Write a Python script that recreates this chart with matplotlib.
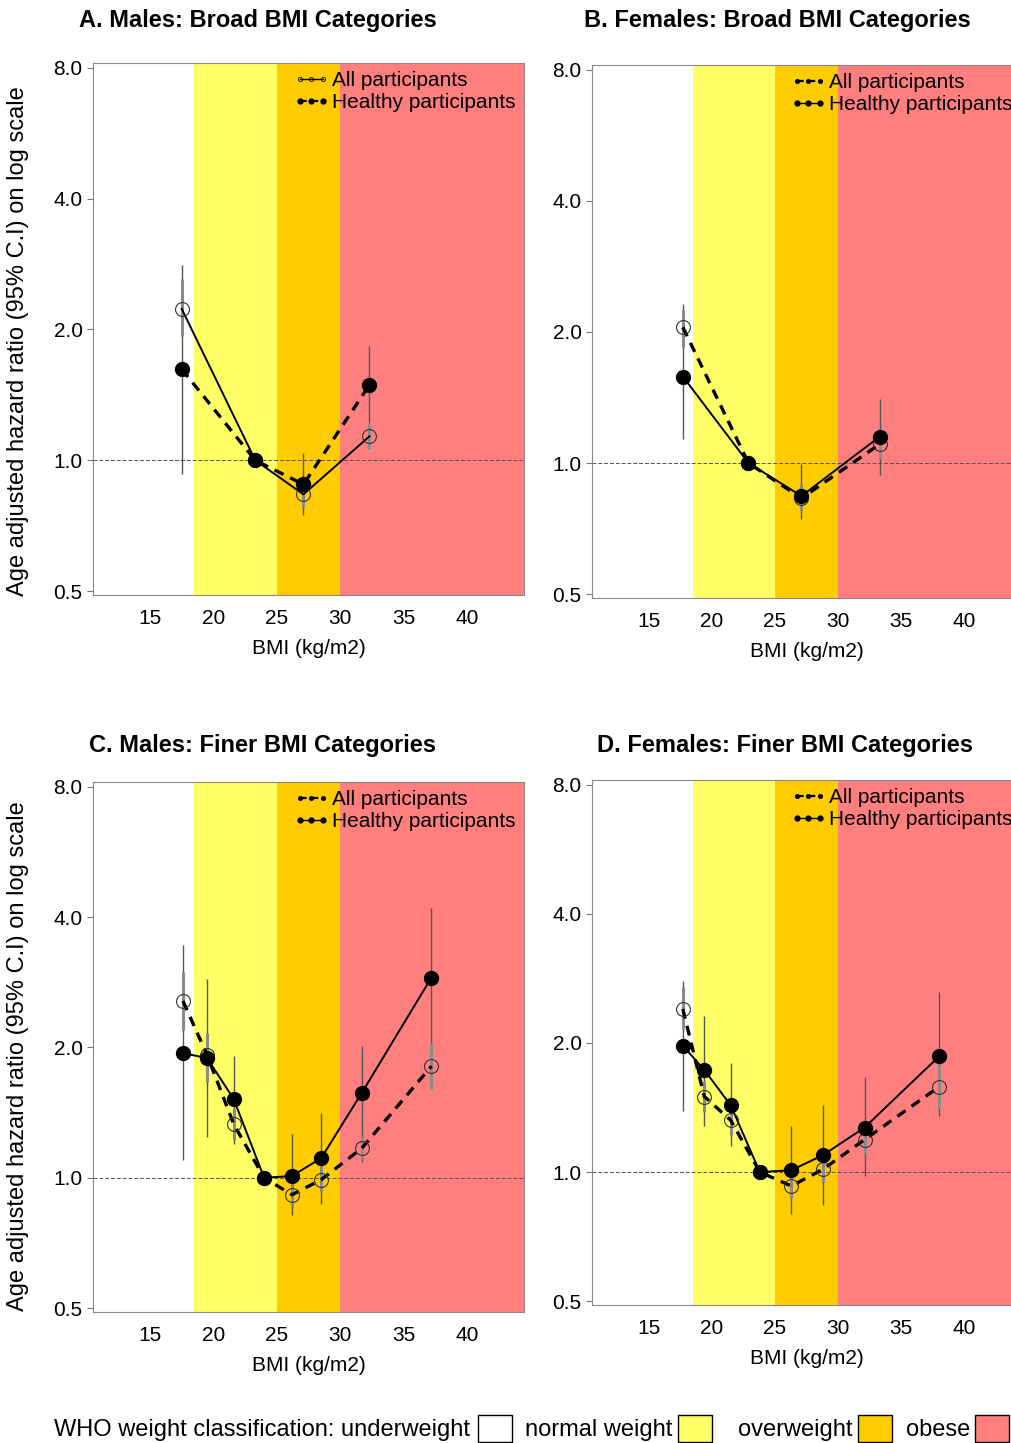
import matplotlib
matplotlib.use("Agg")
import matplotlib.pyplot as plt
from matplotlib.lines import Line2D
from matplotlib.patches import Rectangle

plt.rcParams['font.family'] = ['Liberation Sans', 'DejaVu Sans']

# ---- data (hazard ratios) ----
bmi_a = [17.5, 23.3, 27.1, 32.3]
all_a = [2.23, 1.0, 0.835, 1.135]
all_a_lo = [1.93, 1.0, 0.78, 1.06]
all_a_hi = [2.61, 1.0, 0.90, 1.21]
healthy_a = [1.62, 1.0, 0.88, 1.49]
healthy_a_lo = [0.93, 1.0, 0.75, 1.22]
healthy_a_hi = [2.82, 1.0, 1.04, 1.83]

bmi_b = [17.7, 22.9, 27.1, 33.3]
all_b = [2.05, 1.0, 0.83, 1.105]
all_b_lo = [1.85, 1.0, 0.78, 1.02]
all_b_hi = [2.25, 1.0, 0.89, 1.20]
healthy_b = [1.58, 1.0, 0.84, 1.15]
healthy_b_lo = [1.135, 1.0, 0.744, 0.94]
healthy_b_hi = [2.32, 1.0, 0.995, 1.40]

bmi_c = [17.6, 19.5, 21.6, 24.0, 26.2, 28.5, 31.7, 37.2]
all_c = [2.56, 1.92, 1.33, 1.0, 0.914, 0.99, 1.17, 1.81]
all_c_lo = [2.19, 1.66, 1.22, 1.0, 0.86, 0.93, 1.10, 1.60]
all_c_hi = [2.98, 2.16, 1.45, 1.0, 0.97, 1.06, 1.25, 2.05]
healthy_c = [1.94, 1.89, 1.52, 1.0, 1.01, 1.11, 1.57, 2.90]
healthy_c_lo = [1.10, 1.24, 1.20, 1.0, 0.82, 0.87, 1.09, 2.02]
healthy_c_hi = [3.44, 2.87, 1.91, 1.0, 1.26, 1.41, 2.01, 4.20]

bmi_d = [17.7, 19.4, 21.5, 23.8, 26.3, 28.8, 32.1, 38.0]
all_d = [2.40, 1.50, 1.32, 1.0, 0.928, 1.015, 1.19, 1.58]
all_d_lo = [2.15, 1.38, 1.22, 1.0, 0.87, 0.95, 1.10, 1.40]
all_d_hi = [2.70, 1.63, 1.43, 1.0, 0.99, 1.08, 1.29, 1.79]
healthy_d = [1.97, 1.73, 1.43, 1.0, 1.01, 1.095, 1.27, 1.86]
healthy_d_lo = [1.39, 1.28, 1.15, 1.0, 0.80, 0.84, 0.98, 1.35]
healthy_d_hi = [2.79, 2.31, 1.80, 1.0, 1.28, 1.43, 1.67, 2.63]

titles = ["A. Males: Broad BMI Categories", "B. Females: Broad BMI Categories",
          "C. Males: Finer BMI Categories", "D. Females: Finer BMI Categories"]
y_ticks = [0.5, 1.0, 2.0, 4.0, 8.0]
x_ticks = [15, 20, 25, 30, 35, 40]

who_labels = ["underweight", "normal weight", "overweight", "obese"]
who_bounds = [10, 18.5, 25, 30, 60]
who_colors = ["#FFFFFF", "#FFFF66", "#FFCC00", "#FF7F7F"]

YLABEL = "Age adjusted hazard ratio (95% C.I) on log scale"


def draw_panel(ax, bmi, a, a_lo, a_hi, h, h_lo, h_hi, all_dashed):
    for lo, hi, col in zip(who_bounds[:-1], who_bounds[1:], who_colors):
        ax.axvspan(lo, hi, color=col, lw=0, zorder=0)
    ax.axhline(1.0, color='#555555', lw=0.7, ls=(0, (4, 2)), zorder=1)

    # confidence intervals
    ax.vlines(bmi, h_lo, h_hi, color='#555555', lw=1.0, zorder=2)
    ax.vlines(bmi, a_lo, a_hi, color='#8a8a8a', lw=2.2, zorder=2)

    dash = (0, (3, 2.2))
    all_ls = dash if all_dashed else '-'
    h_ls = '-' if all_dashed else dash
    all_lw = 2.4 if all_dashed else 1.4
    h_lw = 1.4 if all_dashed else 2.4
    ax.plot(bmi, a, ls=all_ls, lw=all_lw, color='black', zorder=3)
    ax.plot(bmi, h, ls=h_ls, lw=h_lw, color='black', zorder=3)
    ax.plot(bmi, a, 'o', ms=10, mfc='none', mec='#333333', mew=0.8, zorder=4)
    ax.plot(bmi, h, 'o', ms=10, color='black', zorder=5)

    ax.set_yscale('log', base=2)
    ax.set_ylim(0.49, 8.2)
    ax.set_xlim(10.5, 44.5)
    ax.set_yticks(y_ticks)
    ax.set_yticklabels(["%.1f" % t for t in y_ticks])
    ax.minorticks_off()
    ax.set_xticks(x_ticks)
    ax.tick_params(axis='x', length=0, pad=10, labelsize=15)
    ax.tick_params(axis='y', length=4, color='#777777', labelsize=15)
    for s in ax.spines.values():
        s.set_color('#888888')
        s.set_linewidth(0.8)
    ax.set_xlabel("BMI (kg/m2)", fontsize=15, labelpad=8)

    h_all = Line2D([], [], ls=all_ls, lw=1.6 if all_dashed else 1.0, color='black',
                   marker='o', ms=3, mfc='none' if not all_dashed else 'black',
                   mec='black', mew=0.6)
    h_h = Line2D([], [], ls=h_ls, lw=1.6 if not all_dashed else 1.0, color='black',
                 marker='o', ms=3.5)
    ax.legend([h_all, h_h], ["All participants", "Healthy participants"],
              loc='upper right', bbox_to_anchor=(1.0, 1.0), frameon=False,
              fontsize=15, numpoints=3, handlelength=1.7, handletextpad=0.15,
              labelspacing=0.15, borderaxespad=0.1, borderpad=0.3)


fig = plt.figure(figsize=(10.12, 14.43), dpi=100)
W, H = 1012.0, 1443.0


def add_ax(l, t, r, b):
    return fig.add_axes([l / W, 1 - b / H, (r - l) / W, (b - t) / H])


ax_a = add_ax(93, 63, 524, 595)
ax_b = add_ax(592, 65, 1021, 598)
ax_c = add_ax(93, 782, 524, 1312)
ax_d = add_ax(592, 780, 1021, 1305)

draw_panel(ax_a, bmi_a, all_a, all_a_lo, all_a_hi, healthy_a, healthy_a_lo, healthy_a_hi, False)
draw_panel(ax_b, bmi_b, all_b, all_b_lo, all_b_hi, healthy_b, healthy_b_lo, healthy_b_hi, True)
draw_panel(ax_c, bmi_c, all_c, all_c_lo, all_c_hi, healthy_c, healthy_c_lo, healthy_c_hi, True)
draw_panel(ax_d, bmi_d, all_d, all_d_lo, all_d_hi, healthy_d, healthy_d_lo, healthy_d_hi, True)

for (cx, cy), title in zip([(258, 20), (777, 20), (263, 745), (785, 745)], titles):
    fig.text(cx / W, 1 - cy / H, title, ha='center', va='center',
             fontsize=17, fontweight='bold')

fig.text(18 / W, 1 - 341 / H, YLABEL, rotation=90, ha='center', va='center', fontsize=17)
fig.text(18 / W, 1 - 1056 / H, YLABEL, rotation=90, ha='center', va='center', fontsize=17)

# bottom WHO legend
box_x = [478, 678, 858, 975]
texts = ["WHO weight classification: underweight", "normal weight", "overweight", "obese"]
text_right = [470, 672, 853, 970]
for txt, tr, bx, col in zip(texts, text_right, box_x, who_colors):
    fig.text(tr / W, 1 - 1430 / H, txt, ha='right', va='center', fontsize=17)
    fig.patches.append(Rectangle((bx / W, 1 - 1442 / H), 34 / W, 27 / H,
                                 transform=fig.transFigure, facecolor=col,
                                 edgecolor='black', lw=1.0))

fig.savefig("out.png", dpi=100)
